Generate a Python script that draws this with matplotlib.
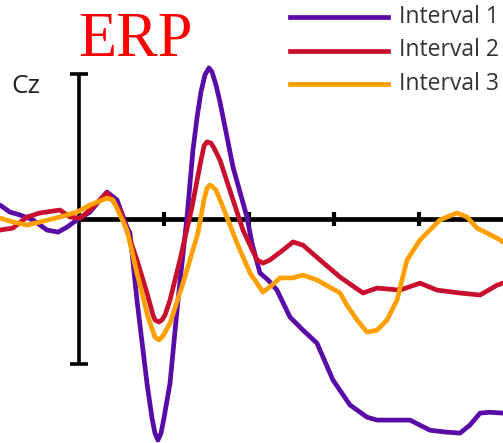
import matplotlib
matplotlib.use('Agg')
from matplotlib import pyplot as plt

# time in ms, amplitude in microvolts
t1 = [-92.9, -81.2, -69.4, -54.1, -37.6, -24.7, -14.1, -2.4, 12.9, 24.7, 32.9, 44.7, 56.5, 60.0, 68.2, 80.0,
      85.9, 89.4, 92.9, 96.5, 100.0, 107.1, 116.5, 127.1, 134.1, 138.8, 143.5, 148.2, 152.9, 156.5, 161.2,
      165.9, 169.4, 181.2, 197.6, 203.5, 212.9, 222.4, 232.9,
      248.2, 263.5, 280.0, 298.8, 318.8, 338.8, 350.6, 371.8, 389.4, 412.9, 430.6, 448.2, 460.0, 471.8, 483.5, 498.8]
v1 = [0.48, 0.24, 0.14, -0.03, -0.38, -0.45, -0.28, -0.03, 0.24, 0.66, 0.93, 0.66, -0.28, -0.48, -2.79, -5.66,
      -6.86, -7.38, -7.62, -7.38, -6.86, -5.66, -2.79, 0.07, 2.38, 3.48, 4.38, 4.97, 5.21, 5.07, 4.62,
      4.03, 3.52, 1.79, 0.07, -0.83, -1.86, -2.10, -2.45,
      -3.38, -3.83, -4.28, -5.55, -6.41, -6.83, -6.93, -6.93, -6.93, -7.28, -7.34, -7.38, -7.10, -6.69, -6.66, -6.69]

t2 = [-92.9, -77.6, -61.2, -45.9, -22.4, -10.6, 1.2, 12.9, 32.9, 48.2, 68.2, 80.0, 87.1, 89.4, 94.1, 97.6,
      101.2, 107.1, 118.8, 132.9, 142.4, 147.1, 150.6, 155.3, 158.8, 165.9, 181.2, 192.9, 209.4, 216.5,
      224.7, 240.0, 251.8, 263.5, 283.5, 307.1, 334.1, 350.6, 377.6, 401.2, 421.2, 448.2, 471.8, 491.8, 498.8]
v2 = [-0.38, -0.31, 0.07, 0.21, 0.31, 0.07, 0.03, 0.31, 0.90, 0.31, -1.41, -2.55, -3.31, -3.48, -3.55, -3.48,
      -3.31, -2.79, -1.41, 0.41, 1.86, 2.52, 2.66, 2.62, 2.45, 2.03, 0.66, -0.38, -1.41, -1.52,
      -1.41, -1.07, -0.79, -0.90, -1.41, -2.0, -2.55, -2.38, -2.45, -2.21, -2.45, -2.55, -2.62, -2.28, -2.21]

t3 = [-92.9, -77.6, -61.2, -45.9, -22.4, -2.4, 12.9, 32.9, 40.0, 56.5, 68.2, 81.2, 89.4, 94.1, 98.8, 107.1,
      122.4, 140.0, 147.1, 150.6, 154.1, 157.6, 161.2, 169.4, 185.9, 201.2, 216.5, 227.1, 236.5, 251.8, 263.5,
      280.0, 307.1, 315.3, 327.1, 338.8, 350.6, 362.4, 374.1, 385.9, 401.2, 424.7, 444.7, 456.5, 468.2, 491.8, 498.8]
v3 = [0.03, -0.10, -0.21, -0.10, 0.07, 0.24, 0.48, 0.72, 0.66, -0.38, -1.86, -3.38, -4.07, -4.17, -4.03, -3.59,
      -2.21, -0.48, 0.66, 1.07, 1.17, 1.10, 1.0, 0.41, -0.83, -1.86, -2.52, -2.28, -2.03, -2.03, -1.93,
      -2.10, -2.55, -2.97, -3.48, -3.90, -3.83, -3.48, -2.79, -1.41, -0.72, -0.03, 0.21, 0.07, -0.31, -0.66, -0.79]

labels = ['Interval 1', 'Interval 2', 'Interval 3']
colors = ['#5a0aa6', '#c8102e', '#ffa000']
tick_times = [100, 200, 300, 400]
scale_uv = 5

fig = plt.figure(figsize=(5.03, 4.43), dpi=100)
ax = fig.add_axes([0, 0, 1, 1])
ax.set_xlim(-92.9, 498.8)
ax.set_ylim(-7.72, 7.55)
ax.axis('off')

# axes drawn by hand, like the original figure
ax.plot([0, 500], [0, 0], color='black', lw=3.4, solid_capstyle='butt', zorder=1)
ax.plot(tick_times, [0] * len(tick_times), ls='none', marker='|', ms=10, mew=3, color='black', zorder=1)
ax.plot([0, 0], [-scale_uv, scale_uv], color='black', lw=2.6, solid_capstyle='butt', zorder=1)
ax.plot([0, 0], [-scale_uv, scale_uv], ls='none', marker='_', ms=12.5, mew=2.6, color='black', zorder=1)

for t, v, c in zip([t1, t2, t3], [v1, v2, v3], colors):
    ax.plot(t, v, color=c, lw=3.4, solid_joinstyle='round', solid_capstyle='round', zorder=2)

fig.text(135 / 503, 1 - 56 / 443, 'ERP', color='#ff0000', fontsize=45, family='Liberation Serif',
         ha='center', va='baseline')
fig.text(11 / 503, 1 - 93 / 443, 'Cz', color='#222222', fontsize=19, family='Open Sans', va='baseline')

for i, (lab, c) in enumerate(zip(labels, colors)):
    y = 1 - (17 + 33.5 * i) / 443
    fig.add_artist(plt.Line2D([290 / 503, 388 / 503], [y, y], color=c, lw=3.4, transform=fig.transFigure))
    fig.text(399 / 503, y, lab, color='#333333', fontsize=16.5, family='Open Sans', va='center')

plt.savefig('out.png', dpi=100)
